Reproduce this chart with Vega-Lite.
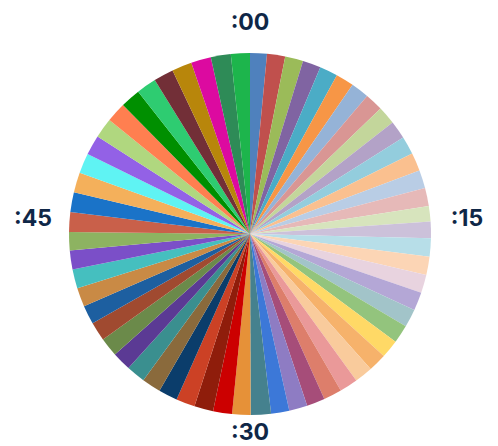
{
  "$schema": "https://vega.github.io/schema/vega-lite/v6.json",
  "width": 496,
  "height": 424,
  "autosize": "none",
  "padding": {"left": 2, "top": 22, "right": 0, "bottom": 0},
  "background": "white",
  "view": {"stroke": null},
  "layer": [
    {
      "data": {
        "values": [
          {"minute": 0, "value": 5.4}, {"minute": 1, "value": 5.82}, {"minute": 2, "value": 5.82}, {"minute": 3, "value": 5.82},
          {"minute": 4, "value": 5.82}, {"minute": 5, "value": 5.82}, {"minute": 6, "value": 5.82}, {"minute": 7, "value": 5.82},
          {"minute": 8, "value": 5.82}, {"minute": 9, "value": 5.82}, {"minute": 10, "value": 5.82}, {"minute": 11, "value": 5.82},
          {"minute": 12, "value": 5.82}, {"minute": 13, "value": 5.82}, {"minute": 14, "value": 5.0}, {"minute": 15, "value": 5.3},
          {"minute": 16, "value": 5.85}, {"minute": 17, "value": 5.85}, {"minute": 18, "value": 5.85}, {"minute": 19, "value": 5.85},
          {"minute": 20, "value": 5.85}, {"minute": 21, "value": 5.85}, {"minute": 22, "value": 5.85}, {"minute": 23, "value": 5.85},
          {"minute": 24, "value": 5.85}, {"minute": 25, "value": 5.85}, {"minute": 26, "value": 5.85}, {"minute": 27, "value": 5.85},
          {"minute": 28, "value": 5.85}, {"minute": 29, "value": 5.85}, {"minute": 30, "value": 6.5}, {"minute": 31, "value": 5.9},
          {"minute": 32, "value": 6.08}, {"minute": 33, "value": 6.08}, {"minute": 34, "value": 6.08}, {"minute": 35, "value": 6.08},
          {"minute": 36, "value": 6.08}, {"minute": 37, "value": 6.08}, {"minute": 38, "value": 6.08}, {"minute": 39, "value": 6.08},
          {"minute": 40, "value": 6.08}, {"minute": 41, "value": 6.08}, {"minute": 42, "value": 6.08}, {"minute": 43, "value": 6.08},
          {"minute": 44, "value": 6.08}, {"minute": 45, "value": 5.9}, {"minute": 46, "value": 6.3}, {"minute": 47, "value": 6.41},
          {"minute": 48, "value": 6.41}, {"minute": 49, "value": 6.41}, {"minute": 50, "value": 6.41}, {"minute": 51, "value": 6.41},
          {"minute": 52, "value": 6.41}, {"minute": 53, "value": 6.41}, {"minute": 54, "value": 6.41}, {"minute": 55, "value": 6.41},
          {"minute": 56, "value": 6.41}, {"minute": 57, "value": 6.41}, {"minute": 58, "value": 6.41}, {"minute": 59, "value": 6.1}
        ]
      },
      "mark": {"type": "arc", "outerRadius": 181},
      "encoding": {
        "theta": {"field": "value", "type": "quantitative", "stack": true},
        "order": {"field": "minute", "type": "quantitative"},
        "color": {
          "field": "minute",
          "type": "ordinal",
          "legend": null,
          "scale": {
            "domain": [0,1,2,3,4,5,6,7,8,9,10,11,12,13,14,15,16,17,18,19,20,21,22,23,24,25,26,27,28,29,30,31,32,33,34,35,36,37,38,39,40,41,42,43,44,45,46,47,48,49,50,51,52,53,54,55,56,57,58,59],
            "range": ["#4F81BD","#C0504D","#9BBB59","#8064A2","#4BACC6","#F79646","#95B3D7","#D99694","#C3D69B","#B3A2C7","#93CDDD","#FAC08F","#B9CDE5","#E6B9B8","#D7E4BD","#CCC1DA","#B7DEE8","#FCD5B5","#E8D3DF","#B4A7D6","#A2C4C9","#93C47D","#FFD966","#F6B26B","#F9CB9C","#EA9999","#DD7E6B","#A64D79","#8E7CC3","#3C78D8","#45818E","#E69138","#CC0000","#8F1D0B","#CC4125","#0B3D6B","#8A6A3C","#3A8F8F","#5B3A94","#6B8A4A","#A04A30","#1D5FA0","#C98A45","#45BFBF","#7B4FC8","#8DB361","#C9604A","#1A73C8","#F4B05B","#5FF3F3","#9361E6","#B0D77F","#FF7F50","#008F00","#2ECC71","#722F37","#B8860B","#DC0AA0","#2E8B57","#1DB54C"]
          }
        }
      }
    },
    {
      "data": {
        "values": [
          {"label": ":00", "pos": 0},
          {"label": ":15", "pos": 15},
          {"label": ":30", "pos": 30},
          {"label": ":45", "pos": 45}
        ]
      },
      "transform": [{"filter": "datum.pos == 0 || datum.pos == 30"}],
      "mark": {"type": "text", "radius": 205, "dy": -6, "font": "Inter", "fontWeight": "bold", "fontSize": 23, "color": "#0F2747", "align": "center", "baseline": "middle"},
      "encoding": {
        "theta": {"field": "pos", "type": "quantitative", "stack": null, "scale": {"domain": [0, 60]}},
        "text": {"field": "label", "type": "nominal"}
      }
    },
    {
      "data": {
        "values": [
          {"label": ":00", "pos": 0},
          {"label": ":15", "pos": 15},
          {"label": ":30", "pos": 30},
          {"label": ":45", "pos": 45}
        ]
      },
      "transform": [{"filter": "datum.pos == 15 || datum.pos == 45"}],
      "mark": {"type": "text", "radius": 217, "dy": -15, "font": "Inter", "fontWeight": "bold", "fontSize": 23, "color": "#0F2747", "align": "center", "baseline": "middle"},
      "encoding": {
        "theta": {"field": "pos", "type": "quantitative", "stack": null, "scale": {"domain": [0, 60]}},
        "text": {"field": "label", "type": "nominal"}
      }
    }
  ],
  "resolve": {"scale": {"theta": "independent"}}
}
